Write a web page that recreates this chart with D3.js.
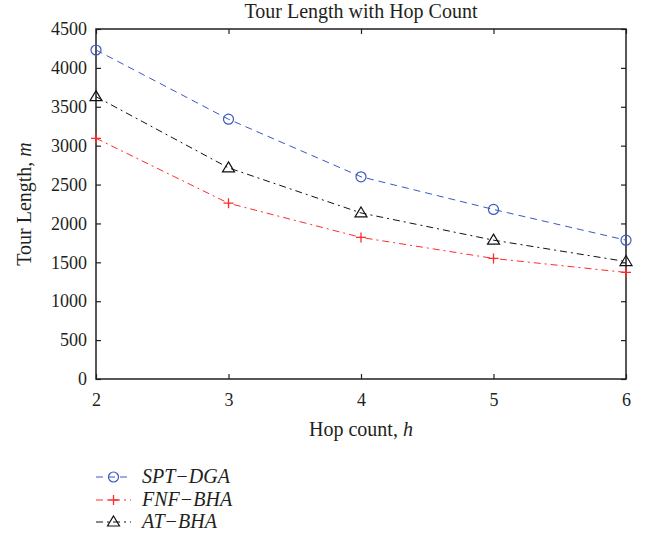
<!DOCTYPE html>
<html lang="en">
<head>
    <meta charset="UTF-8">
    <title>Tour Length with Hop Count</title>
    <script src="https://d3js.org/d3.v7.min.js"></script>
    <style>
        body { margin: 0; background: #fff; }
        svg text { font-family: "Liberation Serif", "DejaVu Serif", serif; }
    </style>
</head>
<body>
<svg id="chart" width="647" height="535"></svg>
<script>
    const hops = [2, 3, 4, 5, 6];
    const sptDga = [4230, 3340, 2600, 2180, 1785];
    const fnfBha = [3095, 2260, 1820, 1550, 1370];
    const atBha = [3630, 2715, 2135, 1785, 1510];
    const yTicks = [0, 500, 1000, 1500, 2000, 2500, 3000, 3500, 4000, 4500];
    const seriesNames = ['SPT\u2212DGA', 'FNF\u2212BHA', 'AT\u2212BHA'];

    const series = [
        {name: seriesNames[0], values: sptDga, color: '#3b57c4', dash: '7,5', marker: 'circle'},
        {name: seriesNames[1], values: fnfBha, color: '#ff2a2a', dash: '7,4,2,4', marker: 'plus'},
        {name: seriesNames[2], values: atBha, color: '#111', dash: '7,4,2,4', marker: 'triangle'}
    ];

    const TEXT_COLOR = '#231f20';
    const SERIF = '"Liberation Serif", "DejaVu Serif", serif';
    const svg = d3.select('#chart');
    const PLOT_L = 96, PLOT_R = 626, PLOT_T = 29, PLOT_B = 379;

    const x = d3.scaleLinear().domain([2, 6]).range([PLOT_L, PLOT_R]);
    const y = d3.scaleLinear().domain([0, 4500]).range([PLOT_B, PLOT_T]);

    // axes, ticks pointing inward
    const styleAxis = g => {
        g.select('.domain').remove();
        g.attr('font-family', SERIF).attr('font-size', 18);
        g.selectAll('.tick line').attr('stroke', TEXT_COLOR).attr('stroke-width', 1.2);
        g.selectAll('.tick text').style('font-family', SERIF).style('font-size', '18px').attr('fill', TEXT_COLOR);
    };
    svg.append('g')
        .attr('transform', `translate(0,${PLOT_B})`)
        .call(d3.axisBottom(x).tickValues(hops).tickFormat(d3.format('d')).tickSizeInner(-5).tickSizeOuter(0).tickPadding(14))
        .call(styleAxis);
    svg.append('g')
        .attr('transform', `translate(${PLOT_L},0)`)
        .call(d3.axisLeft(y).tickValues(yTicks).tickFormat(d3.format('d')).tickSizeInner(-5).tickSizeOuter(0).tickPadding(9))
        .call(styleAxis);
    svg.append('g')
        .attr('transform', `translate(0,${PLOT_T})`)
        .call(d3.axisTop(x).tickValues(hops).tickFormat('').tickSizeInner(-5).tickSizeOuter(0))
        .call(styleAxis);
    svg.append('g')
        .attr('transform', `translate(${PLOT_R},0)`)
        .call(d3.axisRight(y).tickValues(yTicks).tickFormat('').tickSizeInner(-5).tickSizeOuter(0))
        .call(styleAxis);

    svg.append('rect')
        .attr('x', PLOT_L).attr('y', PLOT_T)
        .attr('width', PLOT_R - PLOT_L).attr('height', PLOT_B - PLOT_T)
        .attr('fill', 'none').attr('stroke', TEXT_COLOR).attr('stroke-width', 1.5);

    const drawMarker = (g, type, cx, cy, color) => {
        if (type === 'circle') {
            g.append('circle').attr('cx', cx).attr('cy', cy).attr('r', 5)
                .attr('fill', 'none').attr('stroke', color).attr('stroke-width', 1.2);
        } else if (type === 'plus') {
            g.append('path').attr('d', `M${cx - 5},${cy}H${cx + 5}M${cx},${cy - 5}V${cy + 5}`)
                .attr('stroke', color).attr('stroke-width', 1.3);
        } else {
            g.append('path').attr('d', `M${cx},${cy - 6}L${cx + 6},${cy + 4}L${cx - 6},${cy + 4}Z`)
                .attr('fill', 'none').attr('stroke', color).attr('stroke-width', 1.2);
        }
    };

    const line = d3.line().x((d, i) => x(hops[i])).y(d => y(d));

    series.forEach(s => {
        svg.append('path')
            .datum(s.values)
            .attr('d', line)
            .attr('fill', 'none')
            .attr('stroke', s.color)
            .attr('stroke-width', 1)
            .attr('stroke-dasharray', s.dash);
        const mg = svg.append('g');
        s.values.forEach((v, i) => drawMarker(mg, s.marker, x(hops[i]), y(v), s.color));
    });

    // title and axis labels
    svg.append('text')
        .attr('x', (PLOT_L + PLOT_R) / 2).attr('y', 18)
        .attr('text-anchor', 'middle')
        .attr('fill', TEXT_COLOR)
        .style('font-size', '20px')
        .text('Tour Length with Hop Count');

    const xl = svg.append('text')
        .attr('x', (PLOT_L + PLOT_R) / 2).attr('y', 436)
        .attr('text-anchor', 'middle')
        .attr('fill', TEXT_COLOR)
        .style('font-size', '20px');
    xl.append('tspan').text('Hop count, ');
    xl.append('tspan').style('font-style', 'italic').text('h');

    const yl = svg.append('text')
        .attr('transform', `translate(31,${(PLOT_T + PLOT_B) / 2}) rotate(-90)`)
        .attr('text-anchor', 'middle')
        .attr('fill', TEXT_COLOR)
        .style('font-size', '20px');
    yl.append('tspan').text('Tour Length, ');
    yl.append('tspan').style('font-style', 'italic').text('m');

    // legend
    const legendY = [477, 500, 522];
    series.forEach((s, i) => {
        const g = svg.append('g');
        g.append('line')
            .attr('x1', 96).attr('x2', 131)
            .attr('y1', legendY[i]).attr('y2', legendY[i])
            .attr('stroke', s.color).attr('stroke-width', 1)
            .attr('stroke-dasharray', s.dash);
        drawMarker(g, s.marker, 113.5, legendY[i], s.color);
        g.append('text')
            .attr('x', 142).attr('y', legendY[i] + 6)
            .attr('fill', TEXT_COLOR)
            .style('font-size', '20px').style('font-style', 'italic')
            .text(s.name);
    });
</script>
</body>
</html>
